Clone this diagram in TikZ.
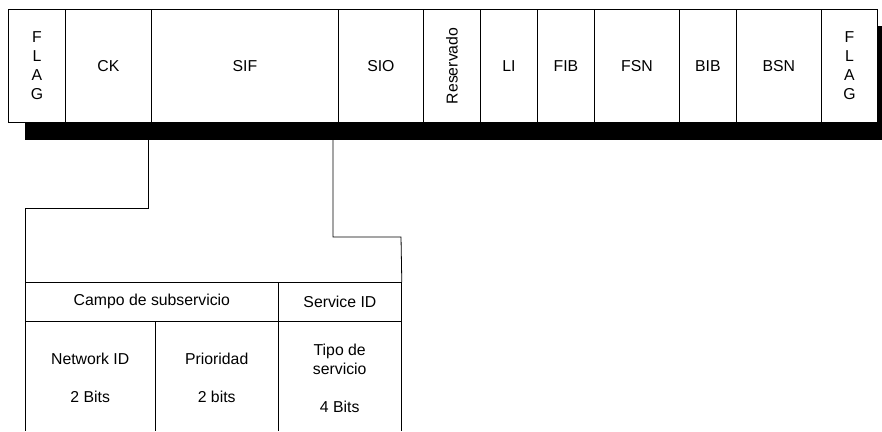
\documentclass[tikz,border=0pt]{standalone}
\usepackage{fontspec}
\setmainfont{Liberation Sans}
\begin{document}
\begin{tikzpicture}[x=1pt,y=-1pt,
  every node/.style={font=\fontsize{15.8}{18.9}\selectfont, align=center, inner sep=0pt},
  field/.style={draw, fill=white, line width=0.8pt, anchor=north west, minimum height=113pt},
  cell/.style={draw, line width=0.8pt, anchor=north west},
  link/.style={draw, line width=0.8pt}]
\useasboundingbox (0,0) rectangle (882,431);

% drop shadow behind the frame
\fill[black] (25,26) rectangle (882,140);

% frame fields, left to right
\node[field, minimum width=57pt]  (flagA) at (8,9)   {F\\L\\A\\G};
\node[field, minimum width=86pt]  (ck)    at (65,9)  {CK};
\node[field, minimum width=187pt] (sif)   at (151,9) {SIF};
\node[field, minimum width=85pt]  (sio)   at (338,9) {SIO};
\node[field, minimum width=57pt]  (res)   at (423,9) {};
\node[rotate=90] at (res.center) {Reservado};
\node[field, minimum width=57pt]  (li)    at (480,9) {LI};
\node[field, minimum width=57pt]  (fib)   at (537,9) {FIB};
\node[field, minimum width=85pt]  (fsn)   at (594,9) {FSN};
\node[field, minimum width=57pt]  (bib)   at (679,9) {BIB};
\node[field, minimum width=85pt]  (bsn)   at (736,9) {BSN};
\node[field, minimum width=56pt]  (flagB) at (821,9) {F\\L\\A\\G};

% SIO breakdown table
\node[cell, minimum width=253pt, minimum height=39pt] (campo)   at (25,282)  {Campo de subservicio};
\node[cell, minimum width=123pt, minimum height=39pt] (service) at (278,282) {Service ID};
\node[anchor=north west, minimum width=130pt, minimum height=114pt] (net)  at (25,321)  {Network ID\\[18.9pt]2 Bits};
\node[anchor=north west, minimum width=123pt, minimum height=114pt] (prio) at (155,321) {Prioridad\\[18.9pt]2 bits};
\node[anchor=north west, minimum width=123pt, minimum height=114pt] (tipo) at (278,321) {Tipo de\\servicio\\[18.9pt]4 Bits};
\draw[line width=0.8pt] (net.north west) -- (net.south west |- 0,431);
\draw[line width=0.8pt] (prio.north west) -- (prio.south west |- 0,431);
\draw[line width=0.8pt] (tipo.north west) -- (tipo.south west |- 0,431);
\draw[line width=0.8pt] (tipo.north east) -- (tipo.south east |- 0,431);

% connectors from the frame down to the table
\coordinate (s1) at (148,140);
\coordinate (k1) at (25,208);
\coordinate (s2) at (333,140);
\coordinate (k2) at (401,237);
\path[link] (s1) |- (k1) -- (campo.north west);
\path[link] (s2) |- (k2) -- (service.north east);
\end{tikzpicture}
\end{document}
